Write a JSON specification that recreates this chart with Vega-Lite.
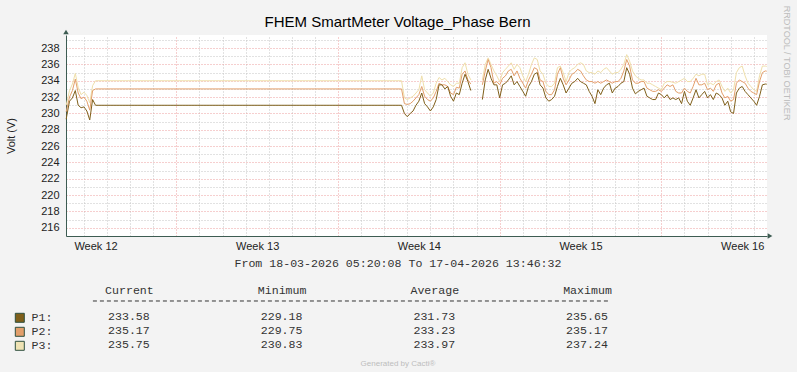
{
"$schema": "https://vega.github.io/schema/vega-lite/v6.json",
"background": "#f3f3f3",
"autosize": {"type": "pad"},
"padding": {"left": 5, "top": 5, "right": 5, "bottom": 5},
"title": {"text": "RRDTOOL / TOBI OETIKER", "orient": "right", "anchor": "start", "fontSize": 9.1, "fontWeight": "normal", "color": "#bdbdbd", "font": "Liberation Sans", "offset": 10, "dx": -9},
"spacing": 6,
"resolve": {"legend": {"color": "independent"}, "scale": {"color": "independent"}},
"vconcat": [
{
"width": 701, "height": 201,
"view": {"fill": "#ffffff", "stroke": null},
"title": {"text": "FHEM SmartMeter Voltage_Phase Bern", "fontSize": 15, "fontWeight": "normal", "font": "Liberation Sans", "color": "#000000", "anchor": "middle", "frame": "group", "dx": -19, "offset": 0},
"data": {"values": [
{"t":"2026-03-18T05:30Z","p1":229.3,"p2":230.2,"p3":231.0},
{"t":"2026-03-18T09:00Z","p1":231.5,"p2":232.0,"p3":232.8},
{"t":"2026-03-18T12:00Z","p1":231.9,"p2":232.8,"p3":233.6},
{"t":"2026-03-18T15:00Z","p1":232.8,"p2":234.2,"p3":234.9},
{"t":"2026-03-18T18:00Z","p1":231.0,"p2":232.5,"p3":233.2},
{"t":"2026-03-18T21:00Z","p1":230.7,"p2":231.8,"p3":232.3},
{"t":"2026-03-19T00:00Z","p1":230.8,"p2":232.0,"p3":232.6},
{"t":"2026-03-19T03:00Z","p1":230.3,"p2":231.5,"p3":232.2},
{"t":"2026-03-19T06:00Z","p1":229.2,"p2":230.4,"p3":231.3},
{"t":"2026-03-19T09:00Z","p1":231.7,"p2":232.8,"p3":233.4},
{"t":"2026-03-19T12:00Z","p1":231.0,"p2":233.0,"p3":234.0},
{"t":"2026-04-01T18:00Z","p1":231.0,"p2":233.0,"p3":234.0},
{"t":"2026-04-01T21:00Z","p1":230.0,"p2":231.2,"p3":231.9},
{"t":"2026-04-02T00:00Z","p1":229.6,"p2":231.1,"p3":231.7},
{"t":"2026-04-02T03:00Z","p1":230.0,"p2":231.2,"p3":231.9},
{"t":"2026-04-02T06:00Z","p1":230.3,"p2":231.5,"p3":232.1},
{"t":"2026-04-02T09:00Z","p1":231.0,"p2":231.9,"p3":232.5},
{"t":"2026-04-02T12:00Z","p1":231.5,"p2":232.3,"p3":232.9},
{"t":"2026-04-02T15:00Z","p1":232.5,"p2":233.3,"p3":234.6},
{"t":"2026-04-02T18:00Z","p1":231.2,"p2":232.1,"p3":232.9},
{"t":"2026-04-02T21:00Z","p1":230.8,"p2":231.7,"p3":232.5},
{"t":"2026-04-03T00:00Z","p1":230.3,"p2":231.5,"p3":232.1},
{"t":"2026-04-03T03:00Z","p1":230.8,"p2":231.9,"p3":232.5},
{"t":"2026-04-03T06:00Z","p1":231.7,"p2":232.7,"p3":233.7},
{"t":"2026-04-03T09:00Z","p1":233.5,"p2":233.7,"p3":234.4},
{"t":"2026-04-03T12:00Z","p1":233.5,"p2":233.5,"p3":234.1},
{"t":"2026-04-03T15:00Z","p1":233.0,"p2":233.5,"p3":234.3},
{"t":"2026-04-03T18:00Z","p1":233.3,"p2":233.3,"p3":233.9},
{"t":"2026-04-03T21:00Z","p1":232.1,"p2":232.5,"p3":233.5},
{"t":"2026-04-04T00:00Z","p1":231.5,"p2":232.3,"p3":233.3},
{"t":"2026-04-04T03:00Z","p1":232.5,"p2":233.2,"p3":233.7},
{"t":"2026-04-04T06:00Z","p1":232.3,"p2":233.1,"p3":233.7},
{"t":"2026-04-04T09:00Z","p1":233.7,"p2":234.8,"p3":235.6},
{"t":"2026-04-04T12:00Z","p1":234.8,"p2":235.2,"p3":236.2},
{"t":"2026-04-04T15:00Z","p1":233.9,"p2":234.1,"p3":234.8},
{"t":"2026-04-04T18:00Z","p1":232.8,"p2":233.6,"p3":234.1},
{"t":"2026-04-05T00:00Z","p1":null,"p2":null,"p3":null},
{"t":"2026-04-05T06:00Z","p1":231.7,"p2":233.5,"p3":234.1},
{"t":"2026-04-05T09:00Z","p1":234.1,"p2":235.2,"p3":236.0},
{"t":"2026-04-05T12:00Z","p1":235.4,"p2":236.6,"p3":236.8},
{"t":"2026-04-05T15:00Z","p1":234.3,"p2":235.6,"p3":236.0},
{"t":"2026-04-05T18:00Z","p1":233.5,"p2":233.7,"p3":235.2},
{"t":"2026-04-05T21:00Z","p1":233.5,"p2":233.9,"p3":234.6},
{"t":"2026-04-06T00:00Z","p1":231.9,"p2":233.5,"p3":233.9},
{"t":"2026-04-06T03:00Z","p1":233.5,"p2":234.3,"p3":235.0},
{"t":"2026-04-06T06:00Z","p1":233.7,"p2":234.6,"p3":235.4},
{"t":"2026-04-06T09:00Z","p1":234.1,"p2":235.2,"p3":235.8},
{"t":"2026-04-06T12:00Z","p1":234.6,"p2":235.4,"p3":236.2},
{"t":"2026-04-06T15:00Z","p1":233.5,"p2":234.6,"p3":235.4},
{"t":"2026-04-06T18:00Z","p1":233.9,"p2":235.2,"p3":236.0},
{"t":"2026-04-06T21:00Z","p1":233.3,"p2":234.3,"p3":235.6},
{"t":"2026-04-07T00:00Z","p1":232.7,"p2":233.7,"p3":234.6},
{"t":"2026-04-07T03:00Z","p1":232.1,"p2":233.1,"p3":233.9},
{"t":"2026-04-07T06:00Z","p1":233.3,"p2":234.1,"p3":234.8},
{"t":"2026-04-07T09:00Z","p1":233.9,"p2":234.8,"p3":236.0},
{"t":"2026-04-07T12:00Z","p1":234.8,"p2":235.6,"p3":236.8},
{"t":"2026-04-07T15:00Z","p1":235.0,"p2":235.4,"p3":236.6},
{"t":"2026-04-07T18:00Z","p1":233.5,"p2":234.1,"p3":235.2},
{"t":"2026-04-07T21:00Z","p1":233.1,"p2":233.9,"p3":234.8},
{"t":"2026-04-08T00:00Z","p1":231.9,"p2":232.7,"p3":233.7},
{"t":"2026-04-08T03:00Z","p1":231.5,"p2":232.3,"p3":233.3},
{"t":"2026-04-08T06:00Z","p1":231.7,"p2":232.3,"p3":233.3},
{"t":"2026-04-08T09:00Z","p1":232.1,"p2":232.9,"p3":233.7},
{"t":"2026-04-08T12:00Z","p1":233.3,"p2":234.8,"p3":235.6},
{"t":"2026-04-08T15:00Z","p1":234.3,"p2":235.6,"p3":235.8},
{"t":"2026-04-08T18:00Z","p1":233.5,"p2":234.3,"p3":235.0},
{"t":"2026-04-08T21:00Z","p1":232.5,"p2":233.5,"p3":233.9},
{"t":"2026-04-09T00:00Z","p1":233.1,"p2":234.1,"p3":235.0},
{"t":"2026-04-09T03:00Z","p1":233.7,"p2":234.8,"p3":235.4},
{"t":"2026-04-09T06:00Z","p1":233.9,"p2":235.0,"p3":235.6},
{"t":"2026-04-09T09:00Z","p1":234.3,"p2":235.4,"p3":236.0},
{"t":"2026-04-09T12:00Z","p1":233.9,"p2":235.2,"p3":236.2},
{"t":"2026-04-09T15:00Z","p1":233.7,"p2":234.6,"p3":236.0},
{"t":"2026-04-09T18:00Z","p1":233.5,"p2":234.1,"p3":235.2},
{"t":"2026-04-09T21:00Z","p1":232.7,"p2":233.9,"p3":235.0},
{"t":"2026-04-10T00:00Z","p1":232.1,"p2":233.9,"p3":235.0},
{"t":"2026-04-10T03:00Z","p1":231.2,"p2":233.7,"p3":234.8},
{"t":"2026-04-10T06:00Z","p1":232.9,"p2":233.9,"p3":235.2},
{"t":"2026-04-10T09:00Z","p1":232.3,"p2":233.7,"p3":235.0},
{"t":"2026-04-10T12:00Z","p1":233.1,"p2":233.9,"p3":235.4},
{"t":"2026-04-10T15:00Z","p1":233.5,"p2":234.1,"p3":235.6},
{"t":"2026-04-10T18:00Z","p1":233.7,"p2":233.9,"p3":235.2},
{"t":"2026-04-10T21:00Z","p1":232.5,"p2":233.7,"p3":234.8},
{"t":"2026-04-11T00:00Z","p1":233.1,"p2":233.9,"p3":235.0},
{"t":"2026-04-11T03:00Z","p1":233.3,"p2":233.9,"p3":235.0},
{"t":"2026-04-11T06:00Z","p1":233.7,"p2":234.3,"p3":235.4},
{"t":"2026-04-11T09:00Z","p1":233.9,"p2":235.2,"p3":236.0},
{"t":"2026-04-11T12:00Z","p1":235.6,"p2":236.6,"p3":237.2},
{"t":"2026-04-11T15:00Z","p1":234.8,"p2":235.8,"p3":236.4},
{"t":"2026-04-11T18:00Z","p1":233.1,"p2":234.1,"p3":235.2},
{"t":"2026-04-11T21:00Z","p1":232.4,"p2":233.7,"p3":234.6},
{"t":"2026-04-12T00:00Z","p1":232.7,"p2":233.7,"p3":234.3},
{"t":"2026-04-12T03:00Z","p1":232.9,"p2":233.9,"p3":234.1},
{"t":"2026-04-12T06:00Z","p1":233.1,"p2":233.9,"p3":234.1},
{"t":"2026-04-12T09:00Z","p1":232.1,"p2":233.1,"p3":233.7},
{"t":"2026-04-12T12:00Z","p1":231.9,"p2":232.9,"p3":233.7},
{"t":"2026-04-12T15:00Z","p1":231.7,"p2":232.7,"p3":233.5},
{"t":"2026-04-12T18:00Z","p1":231.7,"p2":232.7,"p3":233.3},
{"t":"2026-04-12T21:00Z","p1":232.5,"p2":232.9,"p3":233.1},
{"t":"2026-04-13T00:00Z","p1":232.3,"p2":232.7,"p3":232.9},
{"t":"2026-04-13T03:00Z","p1":231.9,"p2":233.1,"p3":233.7},
{"t":"2026-04-13T06:00Z","p1":232.3,"p2":233.5,"p3":233.9},
{"t":"2026-04-13T09:00Z","p1":231.7,"p2":233.3,"p3":233.9},
{"t":"2026-04-13T12:00Z","p1":231.9,"p2":233.5,"p3":233.8},
{"t":"2026-04-13T15:00Z","p1":231.7,"p2":232.7,"p3":233.7},
{"t":"2026-04-13T18:00Z","p1":231.9,"p2":232.5,"p3":233.9},
{"t":"2026-04-13T21:00Z","p1":231.2,"p2":232.5,"p3":234.1},
{"t":"2026-04-14T00:00Z","p1":232.7,"p2":233.1,"p3":234.3},
{"t":"2026-04-14T03:00Z","p1":231.5,"p2":232.7,"p3":233.9},
{"t":"2026-04-14T06:00Z","p1":231.0,"p2":232.5,"p3":233.9},
{"t":"2026-04-14T09:00Z","p1":231.9,"p2":233.3,"p3":234.3},
{"t":"2026-04-14T12:00Z","p1":232.9,"p2":234.3,"p3":234.8},
{"t":"2026-04-14T15:00Z","p1":231.9,"p2":233.5,"p3":234.6},
{"t":"2026-04-14T18:00Z","p1":232.3,"p2":233.5,"p3":234.8},
{"t":"2026-04-14T21:00Z","p1":232.7,"p2":233.7,"p3":234.8},
{"t":"2026-04-15T00:00Z","p1":231.9,"p2":232.9,"p3":233.5},
{"t":"2026-04-15T03:00Z","p1":232.3,"p2":233.1,"p3":233.7},
{"t":"2026-04-15T06:00Z","p1":231.7,"p2":232.7,"p3":233.5},
{"t":"2026-04-15T09:00Z","p1":232.5,"p2":233.5,"p3":233.9},
{"t":"2026-04-15T12:00Z","p1":232.3,"p2":233.7,"p3":234.1},
{"t":"2026-04-15T15:00Z","p1":231.9,"p2":232.5,"p3":233.3},
{"t":"2026-04-15T18:00Z","p1":231.0,"p2":231.9,"p3":232.7},
{"t":"2026-04-15T21:00Z","p1":231.5,"p2":232.1,"p3":233.1},
{"t":"2026-04-16T00:00Z","p1":230.2,"p2":231.5,"p3":232.5},
{"t":"2026-04-16T03:00Z","p1":230.0,"p2":231.7,"p3":232.9},
{"t":"2026-04-16T06:00Z","p1":232.5,"p2":233.7,"p3":235.0},
{"t":"2026-04-16T09:00Z","p1":233.1,"p2":234.1,"p3":235.6},
{"t":"2026-04-16T12:00Z","p1":233.3,"p2":233.9,"p3":235.8},
{"t":"2026-04-16T15:00Z","p1":232.7,"p2":233.7,"p3":234.6},
{"t":"2026-04-16T18:00Z","p1":232.3,"p2":233.1,"p3":233.7},
{"t":"2026-04-16T21:00Z","p1":231.9,"p2":232.7,"p3":233.3},
{"t":"2026-04-17T00:00Z","p1":231.5,"p2":232.5,"p3":232.9},
{"t":"2026-04-17T03:00Z","p1":231.0,"p2":232.3,"p3":232.7},
{"t":"2026-04-17T06:00Z","p1":232.1,"p2":233.9,"p3":234.6},
{"t":"2026-04-17T09:00Z","p1":233.5,"p2":235.0,"p3":235.8},
{"t":"2026-04-17T12:00Z","p1":233.6,"p2":235.2,"p3":235.8},
{"t":"2026-04-17T13:30Z","p1":233.58,"p2":235.17,"p3":235.75}
]},
"layer": [
{"mark": {"type": "line", "color": "#efdfaa", "strokeWidth": 1, "invalid": "break-paths-show-domains"},
 "encoding": {
  "x": {"field": "t", "type": "temporal",
   "scale": {"type": "utc", "nice": false, "domain": [{"year":2026,"month":3,"date":18,"hours":5,"minutes":20,"seconds":8,"utc":true},{"year":2026,"month":4,"date":17,"hours":13,"minutes":46,"seconds":32,"utc":true}]},
   "axis": {"values": [{"year":2026,"month":3,"date":19,"hours":12,"utc":true},{"year":2026,"month":3,"date":26,"hours":12,"utc":true},{"year":2026,"month":4,"date":2,"hours":12,"utc":true},{"year":2026,"month":4,"date":9,"hours":12,"utc":true},{"year":2026,"month":4,"date":16,"hours":12,"utc":true}],
     "format": "Week %V", "grid": false, "ticks": false, "tickSize": 0, "labelPadding": 4, "title": null, "labelFlush": false, "labelOverlap": false, "domainColor": "#3d5c52"}},
  "y": {"field": "p3", "type": "quantitative",
   "scale": {"domain": [215, 239.6], "nice": false, "zero": false},
   "axis": {"values": [216,217,218,219,220,221,222,223,224,225,226,227,228,229,230,231,232,233,234,235,236,237,238,239],
     "labelExpr": "datum.value % 2 === 0 ? datum.label : ''",
     "gridColor": {"condition": {"test": "datum.value % 2 === 0", "value": "#ec9e9e"}, "value": "#c4c4c4"},
     "gridDash": [1, 2], "ticks": false, "tickSize": 0, "labelPadding": 7, "labelFlush": false, "labelOverlap": false,
     "title": "Volt (V)", "titlePadding": 24, "titleFontSize": 11, "titleColor": "#222222", "domainColor": "#3d5c52"}}
 }},
{"mark": {"type": "line", "color": "#e39f6b", "strokeWidth": 1, "invalid": "break-paths-show-domains"},
 "encoding": {
  "x": {"field": "t", "type": "temporal",
   "axis": {"orient": "top",
     "values": [{"year":2026,"month":3,"date":19,"utc":true},{"year":2026,"month":3,"date":20,"utc":true},{"year":2026,"month":3,"date":21,"utc":true},{"year":2026,"month":3,"date":22,"utc":true},{"year":2026,"month":3,"date":23,"utc":true},{"year":2026,"month":3,"date":24,"utc":true},{"year":2026,"month":3,"date":25,"utc":true},{"year":2026,"month":3,"date":26,"utc":true},{"year":2026,"month":3,"date":27,"utc":true},{"year":2026,"month":3,"date":28,"utc":true},{"year":2026,"month":3,"date":29,"utc":true},{"year":2026,"month":3,"date":30,"utc":true},{"year":2026,"month":3,"date":31,"utc":true},{"year":2026,"month":4,"date":1,"utc":true},{"year":2026,"month":4,"date":2,"utc":true},{"year":2026,"month":4,"date":3,"utc":true},{"year":2026,"month":4,"date":4,"utc":true},{"year":2026,"month":4,"date":5,"utc":true},{"year":2026,"month":4,"date":6,"utc":true},{"year":2026,"month":4,"date":7,"utc":true},{"year":2026,"month":4,"date":8,"utc":true},{"year":2026,"month":4,"date":9,"utc":true},{"year":2026,"month":4,"date":10,"utc":true},{"year":2026,"month":4,"date":11,"utc":true},{"year":2026,"month":4,"date":12,"utc":true},{"year":2026,"month":4,"date":13,"utc":true},{"year":2026,"month":4,"date":14,"utc":true},{"year":2026,"month":4,"date":15,"utc":true},{"year":2026,"month":4,"date":16,"utc":true},{"year":2026,"month":4,"date":17,"utc":true}],
     "labels": false, "ticks": false, "domain": false, "title": null, "grid": true,
     "gridColor": {"condition": {"test": "utcday(datum.value) === 1", "value": "#ec9e9e"}, "value": "#c4c4c4"}, "gridDash": [1, 2]}},
  "y": {"field": "p2", "type": "quantitative", "axis": null}
 }},
{"mark": {"type": "line", "color": "#7f5f1a", "strokeWidth": 1, "invalid": "break-paths-show-domains"},
 "encoding": {
  "x": {"field": "t", "type": "temporal", "axis": null},
  "y": {"field": "p1", "type": "quantitative", "axis": null}
 }},
{"data": {"values": [{}]},
 "mark": {"type": "point", "shape": "triangle-right", "filled": true, "size": 30, "color": "#3d5c52", "opacity": 1, "xOffset": 3},
 "encoding": {
  "x": {"datum": {"year":2026,"month":4,"date":17,"hours":13,"minutes":46,"seconds":32,"utc":true}, "type": "temporal", "axis": null},
  "y": {"datum": 215, "type": "quantitative", "axis": null}
 }},
{"data": {"values": [{}]},
 "mark": {"type": "point", "shape": "triangle-up", "filled": true, "size": 30, "color": "#3d5c52", "opacity": 1, "yOffset": -3},
 "encoding": {
  "x": {"datum": {"year":2026,"month":3,"date":18,"hours":5,"minutes":20,"seconds":8,"utc":true}, "type": "temporal", "axis": null},
  "y": {"datum": 239.6, "type": "quantitative", "axis": null}
 }}
],
"resolve": {"axis": {"x": "independent", "y": "independent"}}
},
{
"width": 663, "height": 52,
"data": {"values": [
{"s":"P1","c":"Current","v":"233.58"},{"s":"P1","c":"Minimum","v":"229.18"},{"s":"P1","c":"Average","v":"231.73"},{"s":"P1","c":"Maximum","v":"235.65"},
{"s":"P2","c":"Current","v":"235.17"},{"s":"P2","c":"Minimum","v":"229.75"},{"s":"P2","c":"Average","v":"233.23"},{"s":"P2","c":"Maximum","v":"235.17"},
{"s":"P3","c":"Current","v":"235.75"},{"s":"P3","c":"Minimum","v":"230.83"},{"s":"P3","c":"Average","v":"233.97"},{"s":"P3","c":"Maximum","v":"237.24"}
]},
"layer": [
{"mark": {"type": "text", "font": "Liberation Mono", "fontSize": 11.6, "color": "#333333", "align": "center", "baseline": "middle"},
 "encoding": {
  "x": {"field": "c", "type": "nominal",
   "scale": {"type": "point", "domain": ["Current","Minimum","Average","Maximum"], "padding": 0.671, "align": 0.307},
   "axis": {"orient": "top", "title": "From 18-03-2026 05:20:08 To 17-04-2026 13:46:32", "titleFont": "Liberation Mono", "titleFontSize": 11.6, "titleFontWeight": "normal", "titleColor": "#333333", "titlePadding": 16,
     "labelFont": "Liberation Mono", "labelFontSize": 11.6, "labelColor": "#333333", "labelAngle": 0, "labelPadding": 10, "ticks": false, "tickSize": 0, "domain": false, "grid": false}},
  "y": {"field": "s", "type": "nominal", "scale": {"type": "point", "domain": ["P1","P2","P3"], "padding": 0.857}, "axis": null},
  "text": {"field": "v", "type": "nominal"}
 }},
{"data": {"values": [{}]},
 "mark": {"type": "rule", "color": "#333333", "strokeWidth": 1, "strokeDash": [4, 3], "xOffset": -36, "x2Offset": 22, "yOffset": -16},
 "encoding": {
  "x": {"datum": "Current", "type": "nominal", "axis": null},
  "x2": {"datum": "Maximum"},
  "y": {"datum": "P1", "type": "nominal", "axis": null}
 }},
{"mark": {"type": "square", "opacity": 0},
 "encoding": {
  "x": {"field": "c", "type": "nominal",
   "axis": {"orient": "bottom", "labels": false, "ticks": false, "tickSize": 0, "domain": false, "grid": false, "title": "Generated by Cacti®", "titleFont": "Liberation Sans", "titleFontSize": 8, "titleFontWeight": "normal", "titleColor": "#bdbdbd", "titlePadding": 2}},
  "y": {"field": "s", "type": "nominal", "axis": null},
  "color": {"field": "s", "type": "nominal",
   "scale": {"domain": ["P1","P2","P3"], "range": ["#7f5f1a","#e39f6b","#efe3b4"]},
   "legend": {"orient": "left", "title": null, "symbolType": "square", "symbolSize": 81, "symbolStrokeColor": "#2f4f3f", "symbolStrokeWidth": 1, "symbolOpacity": 1,
     "labelExpr": "datum.label + ':'", "labelFont": "Liberation Mono", "labelFontSize": 11.6, "labelColor": "#333333", "labelOffset": 6, "rowPadding": 0, "padding": 7, "offset": 6}}
 }}
],
"resolve": {"axis": {"x": "independent"}}
}
],
"config": {
 "view": {"stroke": null},
 "axis": {"labelFont": "Liberation Sans", "labelFontSize": 11, "labelColor": "#222222", "titleFont": "Liberation Sans", "titleFontWeight": "normal", "domainColor": "#3d5c52"},
 "title": {"font": "Liberation Sans"}
}
}
